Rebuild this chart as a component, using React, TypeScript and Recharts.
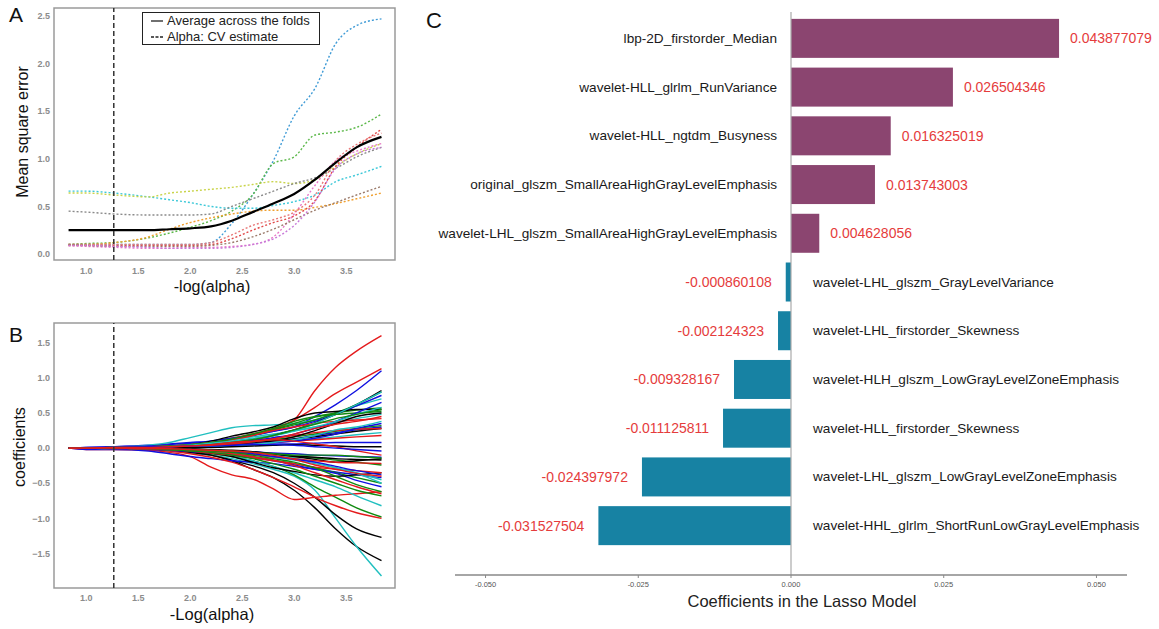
import { LineChart, Line, XAxis, YAxis, ReferenceLine, ReferenceArea, BarChart, Bar } from 'recharts';

const FONT = '"Liberation Sans", Arial, sans-serif';

// shared -log(alpha) grid for panels A and B
const logAlpha = [0.83, 1.0, 1.27, 1.6, 1.8, 2.0, 2.2, 2.4, 2.6, 2.8, 3.0, 3.2, 3.4, 3.6, 3.84];
const cvAlpha = 1.265;
const alphaTicks = [1.0, 1.5, 2.0, 2.5, 3.0, 3.5];

// panel A: MSE per fold + average
const avgMse = [0.25, 0.25, 0.25, 0.25, 0.26, 0.27, 0.29, 0.35, 0.44, 0.53, 0.63, 0.78, 0.96, 1.12, 1.23];
const foldMse = [
  [0.1, 0.1, 0.1, 0.1, 0.1, 0.1, 0.12, 0.32, 0.62, 0.98, 1.45, 1.74, 2.21, 2.4, 2.47],
  [0.1, 0.11, 0.12, 0.17, 0.22, 0.28, 0.35, 0.45, 0.62, 0.95, 1.02, 1.25, 1.28, 1.33, 1.47],
  [0.66, 0.66, 0.64, 0.6, 0.57, 0.54, 0.5, 0.48, 0.48, 0.51, 0.55, 0.62, 0.76, 0.83, 0.92],
  [0.64, 0.64, 0.62, 0.6, 0.64, 0.66, 0.68, 0.7, 0.73, 0.76, 0.74, 0.78, 0.92, 1.05, 1.16],
  [0.45, 0.44, 0.42, 0.41, 0.41, 0.41, 0.42, 0.5, 0.58, 0.66, 0.74, 0.8, 0.9, 1.02, 1.12],
  [0.1, 0.1, 0.12, 0.18, 0.26, 0.33, 0.38, 0.42, 0.45, 0.46, 0.46, 0.49, 0.53, 0.58, 0.64],
  [0.09, 0.09, 0.09, 0.09, 0.09, 0.09, 0.1, 0.16, 0.25, 0.33, 0.4, 0.56, 0.92, 1.12, 1.31],
  [0.09, 0.08, 0.07, 0.06, 0.06, 0.07, 0.07, 0.08, 0.1, 0.18, 0.42, 0.72, 0.98, 1.08, 1.16],
  [0.1, 0.1, 0.1, 0.1, 0.1, 0.1, 0.12, 0.2, 0.3, 0.36, 0.44, 0.62, 0.98, 1.15, 1.27],
  [0.1, 0.09, 0.08, 0.08, 0.08, 0.08, 0.09, 0.12, 0.18, 0.26, 0.36, 0.46, 0.54, 0.62, 0.71],
  [0.09, 0.09, 0.08, 0.07, 0.06, 0.06, 0.06, 0.07, 0.1, 0.16, 0.3, 0.55, 0.9, 1.05, 1.12],
];
const foldColors = ['#3f9bd6', '#5cb84a', '#3cc8d8', '#c9d44a', '#8a8a8a', '#f0a030', '#e04848', '#e878c8', '#e87878', '#9a7a6a', '#c878d8'];
const mseTicks = [0, 0.5, 1.0, 1.5, 2.0, 2.5];

// panel B: lasso coefficient paths, grouped by line colour
const redPaths = [
  [0, 0, 0.01, 0.02, 0.03, 0.04, 0.07, 0.12, 0.19, 0.27, 0.4, 0.82, 1.15, 1.38, 1.6],
  [0, 0, 0.01, 0.01, 0.02, 0.04, 0.08, 0.14, 0.2, 0.28, 0.4, 0.58, 0.78, 0.94, 1.13],
  [0, -0.02, -0.02, -0.03, -0.06, -0.12, -0.27, -0.38, -0.44, -0.58, -0.73, -0.7, -0.67, -0.65, -0.62],
  [0, 0, -0.01, -0.02, -0.04, -0.08, -0.13, -0.2, -0.3, -0.42, -0.55, -0.7, -0.82, -0.92, -1.0],
  [0, 0, 0.01, 0.02, 0.03, 0.05, 0.08, 0.12, 0.18, 0.25, 0.3, 0.35, 0.38, 0.4, 0.42],
  [0, 0, 0, -0.01, -0.02, -0.04, -0.07, -0.1, -0.14, -0.18, -0.22, -0.27, -0.3, -0.32, -0.35],
  [0, 0, 0, 0.01, 0.01, 0.02, 0.04, 0.07, 0.1, 0.14, 0.18, 0.22, 0.25, 0.27, 0.28],
  [0, 0, 0, -0.01, -0.02, -0.03, -0.05, -0.08, -0.12, -0.17, -0.25, -0.35, -0.45, -0.55, -0.65],
  [0, 0, 0, 0, 0.01, 0.01, 0.02, 0.04, 0.06, 0.08, 0.1, 0.12, 0.14, 0.16, 0.18],
  [0, 0, 0, -0.01, -0.01, -0.02, -0.04, -0.06, -0.09, -0.12, -0.15, -0.18, -0.2, -0.21, -0.22],
  [0, 0, 0, 0.01, 0.02, 0.03, 0.05, 0.08, 0.1, 0.12, 0.1, 0.06, 0.02, -0.04, -0.1],
  [0, 0, 0, -0.01, -0.01, -0.02, -0.03, -0.04, -0.06, -0.1, -0.16, -0.24, -0.3, -0.36, -0.4],
  [0, 0, 0.01, 0.01, 0.02, 0.03, 0.04, 0.06, 0.09, 0.13, 0.2, 0.28, 0.34, 0.38, 0.45],
];
const bluePaths = [
  [0, 0.01, 0.02, 0.04, 0.06, 0.08, 0.1, 0.13, 0.18, 0.24, 0.3, 0.45, 0.62, 0.82, 1.1],
  [0, 0.01, 0.02, 0.03, 0.05, 0.07, 0.1, 0.14, 0.18, 0.24, 0.3, 0.38, 0.48, 0.6, 0.75],
  [0, -0.02, -0.02, -0.04, -0.08, -0.12, -0.15, -0.18, -0.2, -0.22, -0.26, -0.3, -0.34, -0.38, -0.42],
  [0, 0, 0.01, 0.02, 0.03, 0.04, 0.05, 0.06, 0.08, 0.1, 0.13, 0.18, 0.22, 0.26, 0.3],
  [0, 0, -0.01, -0.02, -0.03, -0.05, -0.07, -0.1, -0.14, -0.18, -0.24, -0.3, -0.36, -0.46, -0.55],
  [0, 0, 0, 0.01, 0.02, 0.02, 0.03, 0.04, 0.05, 0.06, 0.06, 0.07, 0.08, 0.08, 0.08],
  [0, 0, 0, -0.01, -0.01, -0.02, -0.03, -0.04, -0.05, -0.07, -0.08, -0.1, -0.11, -0.12, -0.13],
  [0, 0, 0.01, 0.01, 0.02, 0.03, 0.05, 0.08, 0.11, 0.15, 0.2, 0.28, 0.38, 0.5, 0.65],
  [0, 0, 0, 0, 0.01, 0.02, 0.03, 0.04, 0.06, 0.08, 0.1, 0.14, 0.2, 0.28, 0.35],
  [0, 0, 0, -0.01, -0.01, -0.02, -0.03, -0.05, -0.08, -0.12, -0.16, -0.2, -0.26, -0.32, -0.38],
  [0, 0, 0.01, 0.02, 0.02, 0.03, 0.03, 0.04, 0.05, 0.05, 0.04, 0.02, 0, -0.02, -0.04],
];
const cyanPaths = [
  [0, 0, 0.01, 0.04, 0.08, 0.15, 0.22, 0.29, 0.32, 0.33, 0.35, 0.4, 0.5, 0.6, 0.7],
  [0, 0, -0.01, -0.02, -0.04, -0.07, -0.1, -0.15, -0.22, -0.3, -0.4, -0.6, -1.0, -1.4, -1.82],
  [0, 0, -0.01, -0.01, -0.02, -0.04, -0.07, -0.12, -0.18, -0.26, -0.35, -0.45, -0.55, -0.68, -0.82],
  [0, 0, 0.01, 0.02, 0.03, 0.05, 0.08, 0.12, 0.16, 0.2, 0.25, 0.3, 0.36, 0.42, 0.48],
  [0, 0, 0, 0.01, 0.01, 0.02, 0.03, 0.05, 0.07, 0.09, 0.11, 0.13, 0.16, 0.19, 0.22],
  [0, 0, 0, -0.01, -0.02, -0.03, -0.05, -0.07, -0.1, -0.13, -0.17, -0.22, -0.28, -0.35, -0.45],
  [0, 0, 0.01, 0.01, 0.02, 0.04, 0.06, 0.09, 0.13, 0.18, 0.25, 0.35, 0.48, 0.62, 0.8],
  [0, 0, 0, 0.01, 0.02, 0.04, 0.07, 0.1, 0.14, 0.18, 0.24, 0.3, 0.38, 0.48, 0.58],
  [0, 0, 0, -0.01, -0.01, -0.02, -0.04, -0.06, -0.08, -0.1, -0.14, -0.2, -0.28, -0.36, -0.5],
  [0, 0, 0, 0, 0.01, 0.02, 0.02, 0.03, 0.05, 0.08, 0.12, 0.18, 0.26, 0.3, 0.38],
];
const greenPaths = [
  [0, 0, 0.01, 0.02, 0.03, 0.05, 0.09, 0.14, 0.2, 0.26, 0.33, 0.4, 0.5, 0.62, 0.8],
  [0, 0, -0.01, -0.02, -0.03, -0.05, -0.08, -0.12, -0.18, -0.26, -0.38, -0.55, -0.7, -0.85, -0.98],
  [0, 0, 0.01, 0.01, 0.02, 0.04, 0.07, 0.12, 0.18, 0.26, 0.35, 0.44, 0.5, 0.54, 0.57],
  [0, 0, 0, -0.01, -0.02, -0.03, -0.05, -0.08, -0.12, -0.17, -0.22, -0.28, -0.35, -0.42, -0.5],
  [0, 0, 0, 0.01, 0.01, 0.02, 0.04, 0.06, 0.09, 0.12, 0.16, 0.2, 0.24, 0.28, 0.32],
  [0, 0, 0, -0.01, -0.01, -0.02, -0.03, -0.05, -0.07, -0.09, -0.12, -0.14, -0.17, -0.2, -0.24],
  [0, 0, 0.01, 0.02, 0.03, 0.05, 0.08, 0.13, 0.2, 0.28, 0.38, 0.45, 0.48, 0.5, 0.52],
  [0, 0, 0, -0.01, -0.02, -0.04, -0.06, -0.1, -0.15, -0.22, -0.3, -0.4, -0.5, -0.6, -0.68],
  [0, 0, 0, 0.01, 0.02, 0.03, 0.05, 0.08, 0.12, 0.18, 0.26, 0.34, 0.42, 0.48, 0.55],
  [0, 0, 0, 0, -0.01, -0.02, -0.03, -0.04, -0.06, -0.08, -0.1, -0.1, -0.1, -0.12, -0.14],
  [0, 0, 0, -0.01, -0.02, -0.03, -0.04, -0.06, -0.1, -0.15, -0.2, -0.28, -0.4, -0.52, -0.62],
];
const blackPaths = [
  [0, 0, -0.01, -0.02, -0.03, -0.05, -0.1, -0.18, -0.3, -0.42, -0.6, -0.85, -1.15, -1.4, -1.6],
  [0, 0, -0.01, -0.01, -0.03, -0.06, -0.1, -0.17, -0.25, -0.35, -0.5, -0.7, -0.95, -1.15, -1.27],
  [0, 0, 0.01, 0.02, 0.03, 0.05, 0.1, 0.17, 0.23, 0.3, 0.42, 0.5, 0.52, 0.55, 0.55],
  [0, 0, 0, 0.01, 0.02, 0.03, 0.05, 0.08, 0.12, 0.18, 0.26, 0.36, 0.48, 0.62, 0.82],
  [0, 0, 0, -0.01, -0.02, -0.04, -0.07, -0.12, -0.2, -0.28, -0.33, -0.38, -0.4, -0.38, -0.35],
  [0, 0, 0, 0.01, 0.01, 0.02, 0.03, 0.05, 0.07, 0.1, 0.13, 0.16, 0.2, 0.24, 0.28],
  [0, 0, 0, 0, -0.01, -0.02, -0.03, -0.05, -0.07, -0.09, -0.11, -0.13, -0.15, -0.16, -0.17],
  [0, 0, 0, 0.01, 0.01, 0.02, 0.03, 0.04, 0.06, 0.1, 0.16, 0.25, 0.35, 0.45, 0.5],
  [0, 0, 0, 0, -0.01, -0.01, -0.02, -0.03, -0.05, -0.08, -0.12, -0.16, -0.2, -0.18, -0.15],
  [0, 0, 0, 0, 0, 0.01, 0.01, 0.02, 0.03, 0.04, 0.05, 0.04, 0.03, 0.02, 0.02],
];
const coefTicks = [-1.5, -1.0, -0.5, 0, 0.5, 1.0, 1.5];

// panel C: lasso coefficients
const featureNames = [
  'lbp-2D_firstorder_Median',
  'wavelet-HLL_glrlm_RunVariance',
  'wavelet-HLL_ngtdm_Busyness',
  'original_glszm_SmallAreaHighGrayLevelEmphasis',
  'wavelet-LHL_glszm_SmallAreaHighGrayLevelEmphasis',
  'wavelet-LHL_glszm_GrayLevelVariance',
  'wavelet-LHL_firstorder_Skewness',
  'wavelet-HLH_glszm_LowGrayLevelZoneEmphasis',
  'wavelet-HLL_firstorder_Skewness',
  'wavelet-LHL_glszm_LowGrayLevelZoneEmphasis',
  'wavelet-HHL_glrlm_ShortRunLowGrayLevelEmphasis',
];
const coefValues = [
  0.043877079, 0.026504346, 0.016325019, 0.013743003, 0.004628056,
  -0.000860108, -0.002124323, -0.009328167, -0.011125811, -0.024397972, -0.031527504,
];
const lassoTicks = [-0.05, -0.025, 0, 0.025, 0.05];

const mseRows = logAlpha.map((x, i) => {
  const row: Record<string, number> = { x, avg: avgMse[i] };
  foldMse.forEach((f, k) => (row['f' + k] = f[i]));
  return row;
});

// interleave colour groups so no single colour sits entirely on top
const groups: [string, number[][]][] = [
  ['#e41a1c', redPaths],
  ['#1010e0', bluePaths],
  ['#20bfbf', cyanPaths],
  ['#108a10', greenPaths],
  ['#000000', blackPaths],
];
const coefSeries: { key: string; color: string; vals: number[] }[] = [];
for (let i = 0; i < 13; i++) {
  groups.forEach(([color, paths], g) => {
    if (paths[i]) coefSeries.push({ key: `c${g}_${i}`, color, vals: paths[i] });
  });
}
const coefRows = logAlpha.map((x, i) => {
  const row: Record<string, number> = { x };
  coefSeries.forEach((s) => (row[s.key] = s.vals[i]));
  return row;
});

const lassoRows = featureNames.map((name, i) => ({ name, value: coefValues[i] }));

const tickStyle = { fontSize: 9, fill: '#8c8c8c', fontWeight: 700, fontFamily: FONT };
const fmt1 = (v: number) => (v < 0 ? '\u2212' + Math.abs(v).toFixed(1) : v.toFixed(1));

const CoefBar = (props: any) => {
  const { x, y, width, height, payload } = props;
  const left = Math.min(x, x + width);
  const w = Math.abs(width);
  const pos = payload.value >= 0;
  const zeroX = pos ? left : left + w;
  const cy = y + height / 2;
  return (
    <g>
      <rect x={left} y={y} width={w} height={height} fill={pos ? '#8b4570' : '#1782a3'} />
      <text
        x={pos ? zeroX - 14 : zeroX + 22}
        y={cy}
        textAnchor={pos ? 'end' : 'start'}
        dominantBaseline="central"
        fontSize={13.6}
        fontFamily={FONT}
        fill="#1a1a1a"
      >
        {payload.name}
      </text>
      <text
        x={pos ? left + w + 11 : left - 14}
        y={cy}
        textAnchor={pos ? 'start' : 'end'}
        dominantBaseline="central"
        fontSize={14}
        fontFamily={FONT}
        fill="#e53c3c"
      >
        {payload.value.toFixed(9)}
      </text>
    </g>
  );
};

const LegendRow = ({ dashed, label }: { dashed?: boolean; label: string }) => (
  <div style={{ display: 'flex', alignItems: 'center', height: 16 }}>
    <svg width={12} height={4} style={{ marginLeft: 8, marginRight: 4 }}>
      <line x1={0} y1={2} x2={12} y2={2} stroke="#222" strokeWidth={1.3} strokeDasharray={dashed ? '3 1.5' : undefined} />
    </svg>
    <span>{label}</span>
  </div>
);

export default function App() {
  return (
    <div style={{ position: 'absolute', left: 0, top: 0, width: 1159, height: 629, background: '#fff', fontFamily: FONT }}>
      <svg width={1159} height={629} style={{ position: 'absolute', left: 0, top: 0 }}>
        <text x={9} y={22} fontSize={21} fontFamily={FONT} fill="#111">A</text>
        <text x={9} y={342} fontSize={21} fontFamily={FONT} fill="#111">B</text>
        <text x={426} y={28} fontSize={22} fontFamily={FONT} fill="#111">C</text>
      </svg>

      <div style={{ position: 'absolute', left: 0, top: 0 }}>
        <LineChart width={420} height={300} data={mseRows} margin={{ top: 8, right: 25, bottom: 0, left: 0 }}>
          <XAxis
            type="number"
            dataKey="x"
            domain={[0.69, 3.97]}
            allowDataOverflow
            ticks={alphaTicks}
            tickFormatter={fmt1}
            axisLine={false}
            tickLine={false}
            tickSize={0}
            tickMargin={8}
            height={40}
            tick={tickStyle}
            label={{
              content: () => (
                <text x={212} y={292} textAnchor="middle" fontSize={16} fontFamily={FONT} fill="#111">-log(alpha)</text>
              ),
            }}
          />
          <YAxis
            type="number"
            domain={[-0.063, 2.584]}
            allowDataOverflow
            ticks={mseTicks}
            tickFormatter={fmt1}
            axisLine={false}
            tickLine={false}
            tickSize={0}
            tickMargin={4}
            width={54}
            tick={tickStyle}
            label={{
              content: () => (
                <text x={27.5} y={132} transform="rotate(-90 27.5 132)" textAnchor="middle" fontSize={16} fontFamily={FONT} fill="#111">Mean square error</text>
              ),
            }}
          />
          <ReferenceArea x1={0.69} x2={3.97} y1={-0.063} y2={2.584} fill="none" stroke="#9a9a9a" strokeWidth={1.5} ifOverflow="visible" />
          {foldMse.map((_, k) => (
            <Line key={k} type="monotone" dataKey={'f' + k} stroke={foldColors[k]} strokeWidth={1.4} strokeDasharray="2 2" dot={false} isAnimationActive={false} />
          ))}
          <Line type="monotone" dataKey="avg" stroke="#000" strokeWidth={2.2} dot={false} isAnimationActive={false} />
          <ReferenceLine x={cvAlpha} stroke="#333" strokeWidth={1.5} strokeDasharray="5 3" />
        </LineChart>
      </div>

      <div
        style={{
          position: 'absolute',
          left: 142,
          top: 12,
          width: 176,
          height: 31,
          border: '1.5px solid #222',
          background: '#fff',
          fontSize: 13,
          color: '#222',
          lineHeight: '16px',
        }}
      >
        <LegendRow label="Average across the folds" />
        <LegendRow dashed label="Alpha: CV estimate" />
      </div>

      <div style={{ position: 'absolute', left: 0, top: 300 }}>
        <LineChart width={420} height={329} data={coefRows} margin={{ top: 23, right: 25, bottom: 0, left: 0 }}>
          <XAxis
            type="number"
            dataKey="x"
            domain={[0.69, 3.97]}
            allowDataOverflow
            ticks={alphaTicks}
            tickFormatter={fmt1}
            axisLine={false}
            tickLine={false}
            tickSize={0}
            tickMargin={7}
            height={41}
            tick={tickStyle}
            label={{
              content: () => (
                <text x={212} y={320} textAnchor="middle" fontSize={16.5} fontFamily={FONT} fill="#111">-Log(alpha)</text>
              ),
            }}
          />
          <YAxis
            type="number"
            domain={[-1.99, 1.78]}
            allowDataOverflow
            ticks={coefTicks}
            tickFormatter={fmt1}
            axisLine={false}
            tickLine={false}
            tickSize={0}
            tickMargin={4}
            width={54}
            tick={tickStyle}
            label={{
              content: () => (
                <text x={25} y={147} transform="rotate(-90 25 147)" textAnchor="middle" fontSize={16} fontFamily={FONT} fill="#111">coefficients</text>
              ),
            }}
          />
          <ReferenceArea x1={0.69} x2={3.97} y1={-1.99} y2={1.78} fill="none" stroke="#9a9a9a" strokeWidth={1.5} ifOverflow="visible" />
          {coefSeries.map((s) => (
            <Line key={s.key} type="monotone" dataKey={s.key} stroke={s.color} strokeWidth={1.4} dot={false} isAnimationActive={false} />
          ))}
          <ReferenceLine x={cvAlpha} stroke="#333" strokeWidth={1.5} strokeDasharray="5 3" />
        </LineChart>
      </div>

      <div style={{ position: 'absolute', left: 400, top: 0 }}>
        <BarChart
          layout="vertical"
          width={759}
          height={629}
          data={lassoRows}
          margin={{ top: 12, right: 32, bottom: 0, left: 55 }}
          barCategoryGap="10%"
        >
          <XAxis
            type="number"
            domain={[-0.055, 0.055]}
            ticks={lassoTicks}
            tickFormatter={(v: number) => v.toFixed(3)}
            height={54}
            tickSize={3}
            tickMargin={4}
            axisLine={{ stroke: '#888', strokeWidth: 1.5 }}
            tickLine={{ stroke: '#888' }}
            tick={{ fontSize: 7.5, fill: '#555', fontFamily: FONT }}
            label={{
              content: () => (
                <text x={402} y={607} textAnchor="middle" fontSize={16.5} fontFamily={FONT} fill="#222">Coefficients in the Lasso Model</text>
              ),
            }}
          />
          <YAxis type="category" dataKey="name" hide padding={{ top: 2, bottom: 25 }} />
          <Bar dataKey="value" shape={CoefBar} isAnimationActive={false} />
          <ReferenceLine x={0} stroke="#aaa" strokeWidth={1.2} />
        </BarChart>
      </div>
    </div>
  );
}
